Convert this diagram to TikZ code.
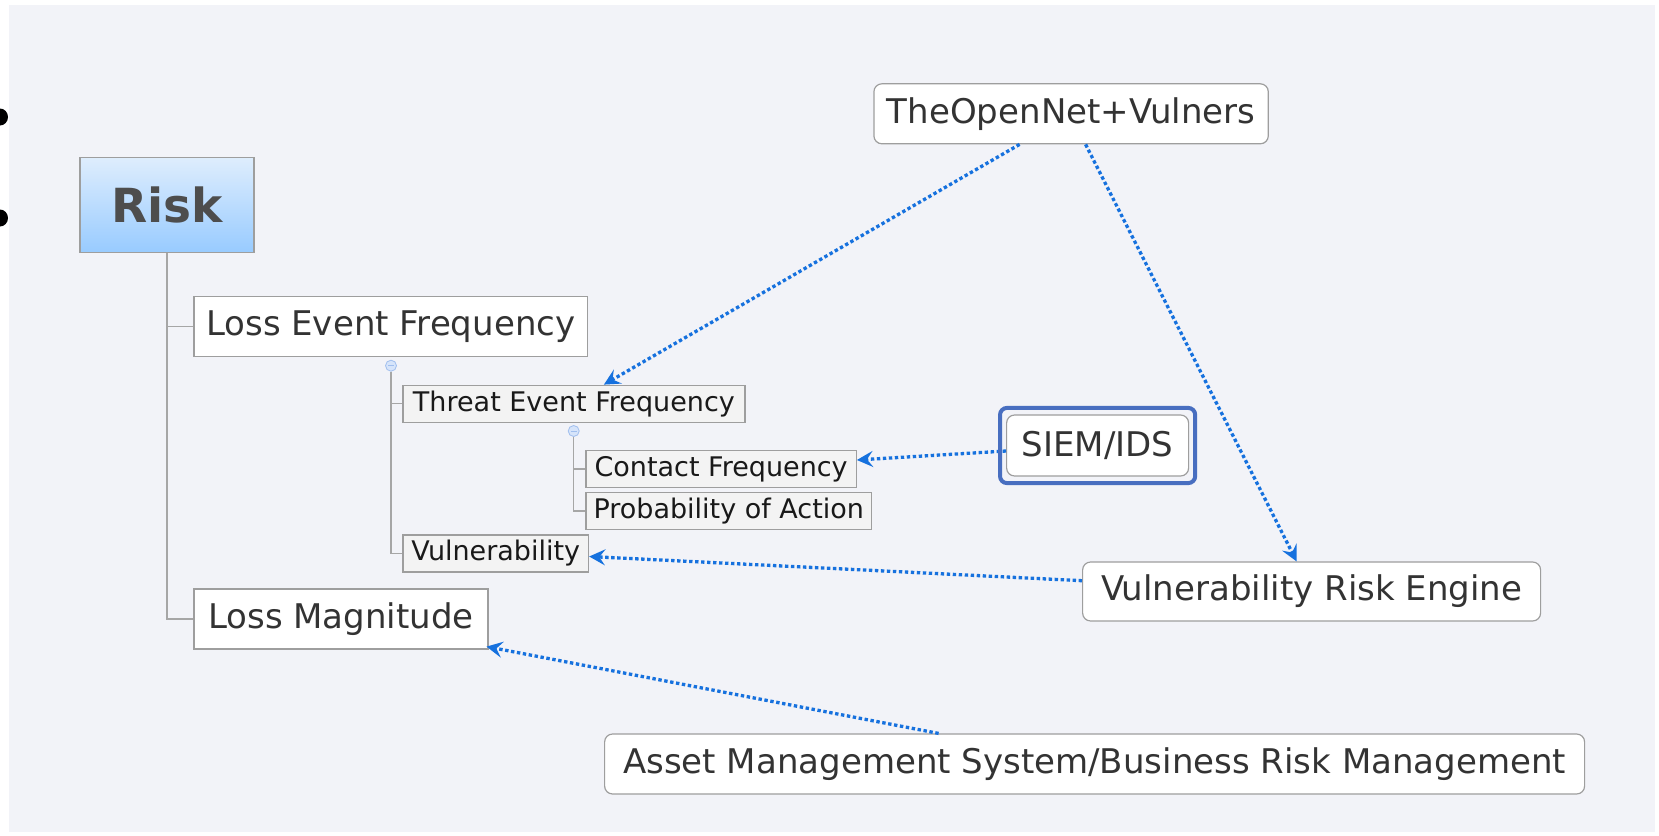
\documentclass[tikz,border=0pt]{standalone}
\usepackage{fontspec}
\setmainfont{DejaVu Sans}
\usepackage{tikz}
\usetikzlibrary{arrows.meta,positioning}

\definecolor{bgcol}{RGB}{242,243,248}
\definecolor{linkblue}{RGB}{22,113,222}
\definecolor{selblue}{RGB}{72,110,192}
\definecolor{framegray}{RGB}{158,158,158}
\definecolor{treegray}{RGB}{166,166,166}
\definecolor{txtgray}{RGB}{51,51,51}
\definecolor{subfill}{RGB}{243,243,243}
\definecolor{foldfill}{RGB}{214,228,250}
\definecolor{foldline}{RGB}{160,190,238}

\begin{document}
\begin{tikzpicture}[x=1pt,y=-1pt,
		topic/.style={draw=framegray,fill=white,line width=1.2pt,inner sep=0pt,minimum height=60pt,text=txtgray,font=\fontsize{34}{40}\selectfont,anchor=west},
		floating/.style={topic,rounded corners=8pt},
		subtopic/.style={draw=framegray,fill=subfill,line width=1.2pt,inner sep=0pt,minimum height=37pt,text=black!90,font=\fontsize{27}{32}\selectfont,anchor=west},
		tree/.style={draw=treegray,line width=1.5pt},
		link/.style={->,linkblue,line width=3.3pt,dash pattern=on 3.4pt off 2.6pt},
		fold/.style={circle,draw=foldline,fill=foldfill,line width=0.8pt,inner sep=0pt,minimum size=11pt},
		selected/.style={draw=selblue,line width=4pt,rounded corners=7pt},
		>={Stealth[length=16pt,width=16pt,inset=6pt]}]
	%% canvas
	\useasboundingbox (0,0) rectangle (1659,835);
	\fill[white] (0,0) rectangle (1659,835);
	\fill[bgcol] (9,5) rectangle (1655,832);
	\fill (0,117) ellipse (8pt and 8.5pt);
	\fill (0,218) ellipse (8pt and 8.5pt);
	%% define topics
	\node (risk) at (79.3,205.2) [draw=framegray,line width=1.2pt,top color={rgb,255:red,222;green,237;blue,253},bottom color={rgb,255:red,152;green,203;blue,255},anchor=west,minimum width=174pt,minimum height=95pt,inner sep=0pt,text={rgb,255:red,77;green,77;blue,77},font=\fontsize{47}{56}\bfseries\selectfont] {Risk};
	\node (lef) at (193.3,326.5) [topic,minimum width=393.7pt,minimum height=60.7pt] {Loss Event Frequency};
	\node (lm) at (193.3,619) [topic,minimum width=294pt] {Loss Magnitude};
	\node (tef) at (402.3,403.7) [subtopic,minimum width=342pt] {Threat Event Frequency};
	\node (cf) at (585.3,468.8) [subtopic,minimum width=270.4pt] {Contact Frequency};
	\node (poa) at (585.3,511) [subtopic,minimum width=285.7pt] {Probability of Action};
	\node (vul) at (402.3,553.5) [subtopic,minimum width=185.7pt] {Vulnerability};
	%% define floating topics
	\node (ton) at (873.3,113.8) [floating,minimum width=394.4pt] {TheOpenNet+Vulners};
	\node (siem) at (1006,445.5) [floating,minimum width=182pt,minimum height=61pt] {SIEM/IDS};
	\node (vre) at (1082,591.5) [floating,minimum width=458pt,minimum height=59pt] {Vulnerability Risk Engine};
	\node (ams) at (604,764) [floating,minimum width=980pt] {Asset Management System/Business Risk Management};
	%% define tree
	\node (fold1) at (391,365.7) [fold] {};
	\node (fold2) at (573.7,431) [fold] {};
	\draw[tree] (risk.south) |- (lef.west);
	\draw[tree] (risk.south) |- (lm.west);
	\draw[tree] (fold1.south) |- (tef.west);
	\draw[tree] (fold1.south) |- (vul.west);
	\draw[tree] (fold2.south) |- (cf.west);
	\draw[tree] (fold2.south) |- (poa.west);
	\draw[foldline,line width=0.8pt] ([xshift=-3pt]fold1.center) -- ([xshift=3pt]fold1.center);
	\draw[foldline,line width=0.8pt] ([xshift=-3pt]fold2.center) -- ([xshift=3pt]fold2.center);
	%% define arrows
	\draw[link] ([xshift=-51.5pt]ton.south) -- ([xshift=30pt]tef.north);
	\draw[link] ([xshift=14.5pt]ton.south) -- ([xshift=-15pt]vre.north);
	\draw[link] ([yshift=-5.5pt]siem.west) -- ([yshift=8.8pt]cf.east);
	\draw[link] ([yshift=10.8pt]vre.west) -- ([yshift=-3pt]vul.east);
	\draw[link] ([xshift=-156pt]ams.north) -- ([shift={(-2pt,3pt)}]lm.south east);
	\draw[selected] ([shift={(-6pt,-6.5pt)}]siem.south west) rectangle ([shift={(6pt,6.5pt)}]siem.north east);
\end{tikzpicture}
\end{document}
